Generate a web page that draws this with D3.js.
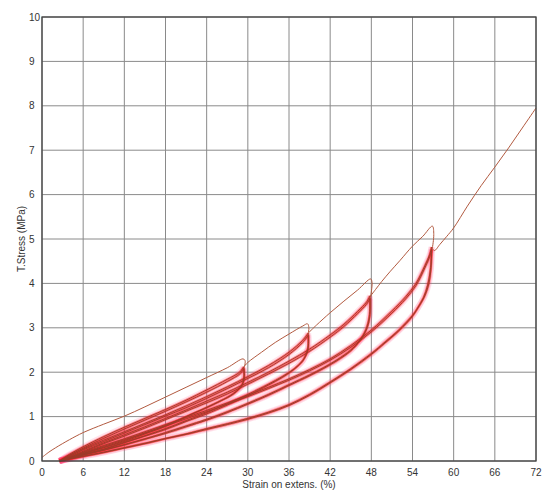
<!DOCTYPE html>
<html><head><meta charset="utf-8">
<script src="https://cdn.jsdelivr.net/npm/d3@7"></script>
<style>html,body{margin:0;padding:0;background:#fff;}svg{display:block;font-family:"Liberation Sans",Arial,sans-serif;}</style>
</head><body>
<svg id="c" width="550" height="498"></svg>
<script>
const xTicks = [0,6,12,18,24,30,36,42,48,54,60,66,72];
const yTicks = [0,1,2,3,4,5,6,7,8,9,10];
const xTitle = "Strain on extens. (%)";
const yTitle = "T.Stress (MPa)";

// virgin loading envelope pieces (strain %, stress MPa)
const env1 = [[0,0.08],[1,0.2],[2,0.3],[4,0.48],[6,0.64],[9,0.83],[12,1.01],[15,1.22],[18,1.44],[21,1.66],[24,1.88],[27,2.1],[29.3,2.3],[29.6,2.26],[29.5,2.12]];
const env2 = [[29.4,2.12],[30,2.22],[32,2.45],[34,2.67],[36,2.86],[38,3.04],[38.7,3.09],[38.9,3.0],[38.8,2.88]];
const env3 = [[38.8,2.88],[40,3.06],[42,3.34],[44,3.6],[46,3.85],[47.9,4.1],[48.1,4.02],[47.9,3.7]];
const env4 = [[47.8,3.7],[48.6,3.86],[49.5,4.04],[50.7,4.26],[52.2,4.52],[54,4.84],[55.5,5.06],[56.9,5.29],[57.1,5.1],[56.9,4.8]];
const finalPull = [[56.8,4.8],[57.2,4.74],[58,4.88],[59,5.06],[60,5.25],[62,5.74],[64,6.2],[66,6.62],[68,7.05],[70,7.5],[72,7.95]];

// cycles, level 1
const reload1a = [[2.5,0],[4,0.15],[6,0.32],[9,0.55],[12,0.76],[15,0.96],[18,1.16],[21,1.37],[24,1.6],[27,1.84],[28.8,2.0],[29.4,2.12]];
const unload1a = [[29.4,2.12],[29.5,1.9],[29.2,1.72],[28,1.52],[26,1.35],[24,1.2],[21,1.0],[18,0.8],[15,0.63],[12,0.46],[9,0.31],[6,0.17],[4,0.07],[2.5,0]];
const reload1b = [[2.6,0],[4,0.13],[6,0.29],[9,0.51],[12,0.72],[15,0.92],[18,1.12],[21,1.33],[24,1.55],[27,1.79],[28.9,1.97],[29.4,2.08]];
const unload1b = [[29.4,2.08],[29.4,1.85],[29.0,1.68],[27.5,1.48],[25,1.28],[22,1.07],[18,0.78],[15,0.61],[12,0.44],[9,0.3],[6,0.16],[4,0.06],[2.6,0]];
// level 2
const reload2a = [[2.5,0],[6,0.27],[9,0.47],[12,0.66],[15,0.85],[18,1.04],[21,1.24],[24,1.45],[27,1.67],[30,1.9],[33,2.15],[36,2.45],[38,2.72],[38.8,2.88]];
const unload2a = [[38.8,2.88],[38.8,2.55],[38.2,2.3],[36.8,2.08],[35,1.9],[33,1.73],[30,1.5],[27,1.29],[24,1.09],[21,0.91],[18,0.73],[15,0.57],[12,0.42],[9,0.27],[6,0.15],[4,0.06],[2.5,0]];
const reload2b = [[2.6,0],[6,0.25],[9,0.44],[12,0.63],[15,0.82],[18,1.01],[21,1.2],[24,1.41],[27,1.63],[30,1.86],[33,2.1],[36,2.4],[38,2.67],[38.8,2.83]];
const unload2b = [[38.8,2.83],[38.7,2.5],[38.0,2.26],[36.6,2.05],[35,1.88],[33,1.71],[30,1.47],[27,1.26],[24,1.06],[21,0.89],[18,0.71],[15,0.56],[12,0.41],[9,0.26],[6,0.14],[4,0.05],[2.6,0]];
// level 3
const reload3a = [[2.5,0],[6,0.22],[9,0.41],[12,0.59],[15,0.77],[18,0.96],[21,1.15],[24,1.35],[27,1.55],[30,1.77],[33,2.0],[36,2.25],[39,2.52],[42,2.84],[44,3.08],[46,3.37],[47.3,3.58],[47.8,3.72]];
const unload3a = [[47.8,3.72],[47.8,3.3],[47.4,3.0],[46.4,2.72],[45,2.5],[43,2.28],[41,2.1],[39,1.94],[36,1.72],[33,1.5],[30,1.3],[27,1.11],[24,0.94],[21,0.79],[18,0.64],[15,0.5],[12,0.37],[9,0.25],[6,0.14],[4,0.06],[2.5,0]];
const reload3b = [[2.6,0],[6,0.2],[9,0.39],[12,0.56],[15,0.74],[18,0.93],[21,1.12],[24,1.31],[27,1.51],[30,1.73],[33,1.96],[36,2.2],[39,2.47],[42,2.79],[44,3.03],[46,3.32],[47.3,3.53],[47.8,3.66]];
const unload3b = [[47.8,3.66],[47.7,3.25],[47.2,2.96],[46.2,2.69],[45,2.48],[43,2.26],[41,2.08],[39,1.92],[36,1.7],[33,1.48],[30,1.28],[27,1.09],[24,0.92],[21,0.77],[18,0.62],[15,0.49],[12,0.36],[9,0.24],[6,0.13],[4,0.05],[2.6,0]];
// level 4
const reload4a = [[2.5,0],[6,0.19],[9,0.35],[12,0.5],[15,0.66],[18,0.82],[21,0.98],[24,1.14],[27,1.31],[30,1.48],[33,1.66],[36,1.85],[39,2.06],[42,2.3],[45,2.6],[48,2.95],[51,3.38],[53,3.7],[54.5,4.0],[55.8,4.4],[56.5,4.65],[56.8,4.82]];
const unload4a = [[56.8,4.82],[56.7,4.35],[56.4,4.0],[55.8,3.72],[55,3.5],[54,3.28],[52,2.95],[50,2.68],[48,2.42],[45,2.08],[42,1.78],[39,1.5],[36,1.27],[33,1.1],[30,0.96],[27,0.84],[24,0.73],[21,0.61],[18,0.51],[15,0.4],[12,0.3],[9,0.2],[6,0.11],[4,0.05],[2.5,0]];
const reload4b = [[2.6,0],[6,0.17],[9,0.33],[12,0.48],[15,0.63],[18,0.79],[21,0.95],[24,1.11],[27,1.28],[30,1.45],[33,1.63],[36,1.82],[39,2.03],[42,2.27],[45,2.56],[48,2.91],[51,3.33],[53,3.65],[54.5,3.95],[55.8,4.35],[56.5,4.6],[56.8,4.76]];
const unload4b = [[56.8,4.76],[56.6,4.3],[56.2,3.96],[55.6,3.68],[54.8,3.46],[54,3.26],[52,2.93],[50,2.66],[48,2.4],[45,2.06],[42,1.76],[39,1.48],[36,1.25],[33,1.08],[30,0.94],[27,0.82],[24,0.71],[21,0.6],[18,0.5],[15,0.39],[12,0.29],[9,0.19],[6,0.1],[4,0.04],[2.6,0]];

const envelope = [env1, env2, env3, env4, finalPull];
const cycles = [reload1a, unload1a, reload1b, unload1b, reload2a, unload2a, reload2b, unload2b,
                reload3a, unload3a, reload3b, unload3b, reload4a, unload4a, reload4b, unload4b];

const svg = d3.select("#c");
const L = 42, R = 536, T = 17, B = 461;
const x = d3.scaleLinear().domain([0,72]).range([L,R]);
const y = d3.scaleLinear().domain([0,10]).range([B,T]);

// grid
svg.append("g").selectAll("line").data(xTicks).join("line")
  .attr("x1", d => x(d)).attr("x2", d => x(d)).attr("y1", T).attr("y2", B)
  .attr("stroke", "#8a8a8a").attr("stroke-width", 1);
svg.append("g").selectAll("line").data(yTicks).join("line")
  .attr("x1", L).attr("x2", R).attr("y1", d => y(d)).attr("y2", d => y(d))
  .attr("stroke", "#8a8a8a").attr("stroke-width", 1);

// tick labels
svg.append("g").selectAll("text").data(xTicks).join("text")
  .attr("x", d => x(d)).attr("y", 476).attr("text-anchor", "middle")
  .attr("font-size", 10).attr("fill", "#333").text(d => d);
svg.append("g").selectAll("text").data(yTicks).join("text")
  .attr("x", 29).attr("y", d => y(d) + 3.5).attr("text-anchor", "start")
  .attr("font-size", 10).attr("fill", "#333").text(d => d);

// titles
svg.append("text").attr("x", (L+R)/2).attr("y", 488).attr("text-anchor", "middle")
  .attr("font-size", 10).attr("fill", "#333").text(xTitle);
svg.append("text").attr("transform", `translate(25,${(T+B)/2}) rotate(-90)`)
  .attr("text-anchor", "middle").attr("font-size", 10).attr("fill", "#333").text(yTitle);

const line = d3.line().x(d => x(d[0])).y(d => y(d[1])).curve(d3.curveCatmullRom.alpha(0.5));

// loops: pink halo, then red-brown cores
const g = svg.append("g");
g.selectAll("path.halo").data(cycles).join("path").attr("class","halo")
  .attr("d", line).attr("fill", "none").attr("stroke", "#ff3d78").attr("stroke-opacity", 0.14)
  .attr("stroke-width", 6).attr("stroke-linejoin","round");
g.selectAll("path.mid").data(cycles).join("path").attr("class","mid")
  .attr("d", line).attr("fill", "none").attr("stroke", "#ff2020").attr("stroke-opacity", 0.45)
  .attr("stroke-width", 2.4).attr("stroke-linejoin","round");
g.selectAll("path.core").data(cycles).join("path").attr("class","core")
  .attr("d", line).attr("fill", "none").attr("stroke", "#9c3a28").attr("stroke-width", 0.9)
  .attr("stroke-linejoin","round");
g.selectAll("path.env").data(envelope).join("path").attr("class","env")
  .attr("d", line).attr("fill", "none").attr("stroke", "#b25a40").attr("stroke-width", 1)
  .attr("stroke-linejoin","round");

// frame
svg.append("rect").attr("x", L).attr("y", T).attr("width", R-L).attr("height", B-T)
  .attr("fill", "none").attr("stroke", "#444").attr("stroke-width", 1.3);
</script>
</body></html>
